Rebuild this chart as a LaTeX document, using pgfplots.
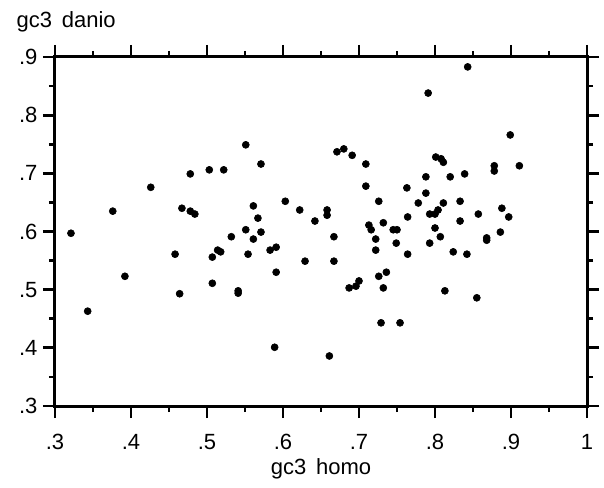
\documentclass[border=0pt]{standalone}
\usepackage{pgfplots}
\pgfplotsset{compat=1.18}
\usepackage{fontspec}
\setmainfont{Liberation Sans}

% gc3 of homo vs danio
\pgfplotstableread{
x     y
0.321 0.597
0.343 0.463
0.376 0.635
0.392 0.523
0.426 0.676
0.458 0.561
0.464 0.493
0.467 0.640
0.478 0.635
0.484 0.630
0.478 0.699
0.503 0.706
0.522 0.706
0.507 0.556
0.507 0.511
0.514 0.568
0.518 0.565
0.532 0.591
0.541 0.498
0.541 0.494
0.551 0.749
0.571 0.716
0.561 0.644
0.567 0.623
0.551 0.603
0.571 0.599
0.561 0.587
0.554 0.561
0.583 0.568
0.591 0.573
0.591 0.530
0.589 0.401
0.603 0.652
0.622 0.637
0.642 0.618
0.658 0.637
0.658 0.628
0.667 0.591
0.629 0.549
0.667 0.549
0.661 0.386
0.671 0.737
0.680 0.742
0.691 0.731
0.709 0.716
0.709 0.678
0.726 0.652
0.713 0.611
0.716 0.603
0.732 0.615
0.745 0.603
0.750 0.603
0.722 0.587
0.722 0.568
0.749 0.580
0.687 0.503
0.696 0.506
0.700 0.515
0.726 0.523
0.736 0.530
0.732 0.503
0.729 0.443
0.754 0.443
0.763 0.675
0.764 0.625
0.764 0.561
0.788 0.694
0.788 0.666
0.778 0.649
0.791 0.838
0.843 0.883
0.801 0.728
0.808 0.725
0.811 0.719
0.820 0.694
0.839 0.699
0.811 0.649
0.833 0.652
0.793 0.630
0.800 0.630
0.804 0.637
0.833 0.618
0.857 0.630
0.800 0.606
0.807 0.591
0.793 0.580
0.824 0.565
0.842 0.561
0.813 0.498
0.855 0.486
0.868 0.589
0.868 0.585
0.886 0.599
0.878 0.713
0.878 0.704
0.911 0.713
0.899 0.766
0.888 0.640
0.897 0.625
}\gcdata

\begin{document}
\begin{tikzpicture}
\begin{axis}[
    scale only axis,
    width=532pt,
    height=349pt,
    xmin=0.3, xmax=1,
    ymin=0.3, ymax=0.9,
    xtick={0.3,0.4,...,1.0},
    ytick={0.3,0.4,...,0.9},
    xticklabels={.3,.4,.5,.6,.7,.8,.9,1},
    yticklabels={.3,.4,.5,.6,.7,.8,.9},
    minor x tick num=1,
    minor y tick num=1,
    tick align=outside,
    major tick length=12pt,
    minor tick length=6pt,
    axis line style={line width=3pt},
    major tick style={black, line width=2.8pt},
    minor tick style={black, line width=2.8pt},
    tick label style={font=\fontsize{22}{26}\selectfont},
    xticklabel style={yshift=-13pt},
    yticklabel style={xshift=-2pt},
    /pgf/number format/assume math mode=true,
    xlabel={gc3\hspace{0.45em}homo},
    xlabel style={font=\fontsize{22}{26}\selectfont, yshift=-2pt},
    ylabel={gc3\hspace{0.45em}danio},
    ylabel style={font=\fontsize{22}{26}\selectfont, rotate=-90,
        at={(rel axis cs:0,1)}, anchor=base west, xshift=-42pt, yshift=29pt},
]
\addplot[only marks, mark=*, mark size=3.5pt, line width=0.6pt, black] table {\gcdata};
\end{axis}
\path (current axis.south west) ++(-55pt,-81pt) rectangle ++(604pt,487pt);
\end{tikzpicture}
\end{document}
